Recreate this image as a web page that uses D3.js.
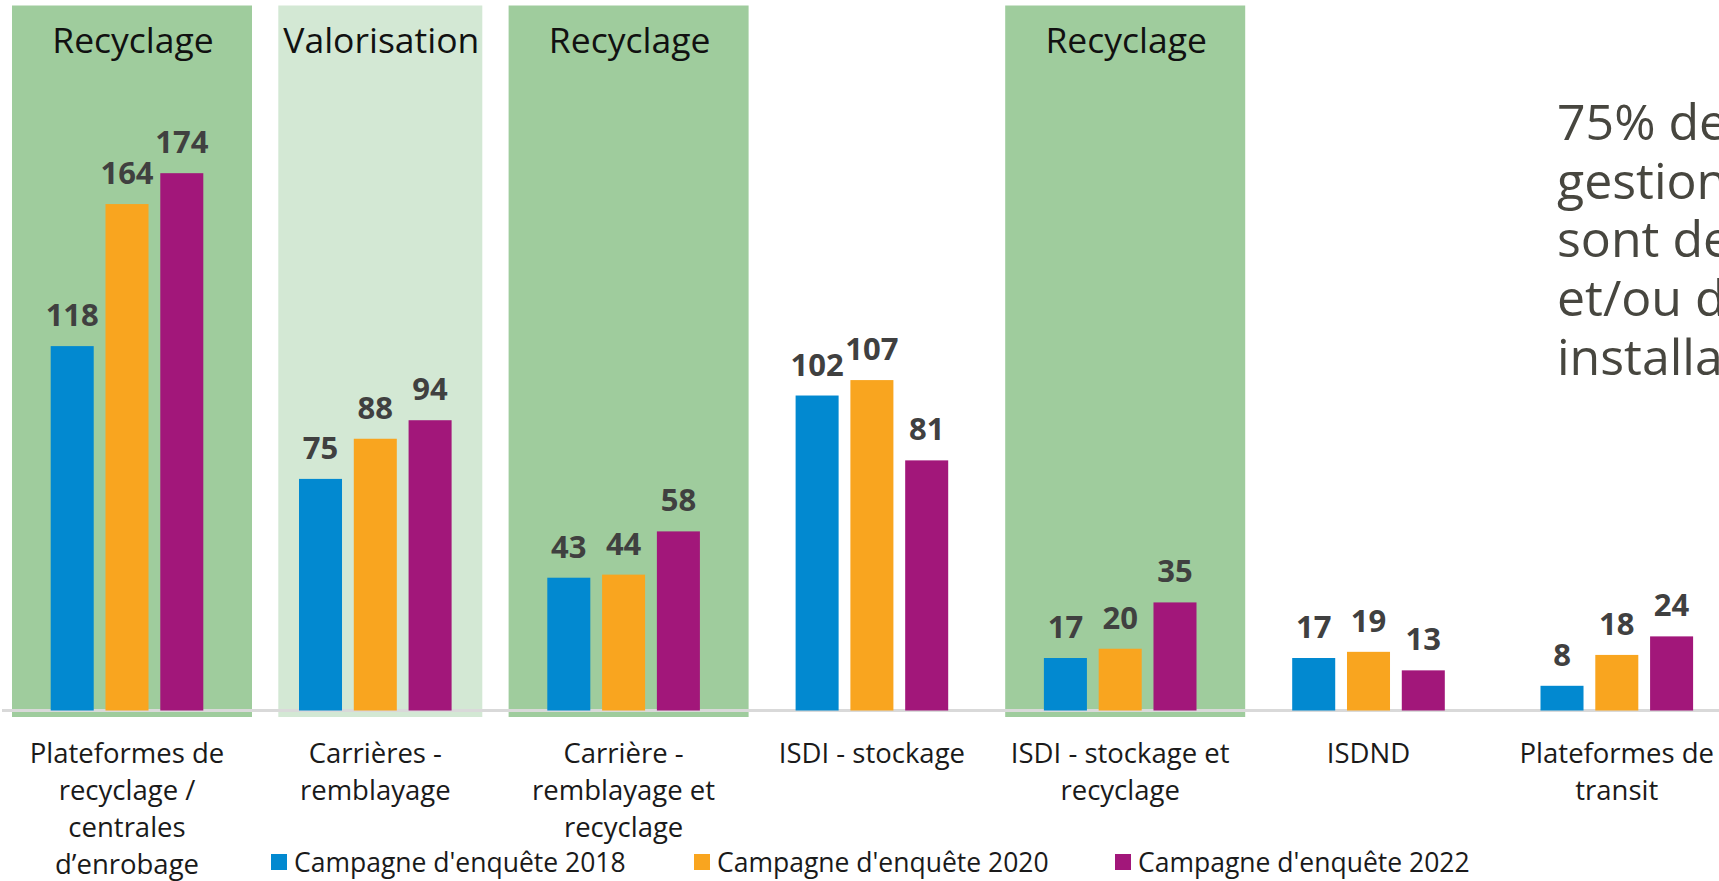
<!DOCTYPE html>
<meta charset="utf-8">
<style>
body { margin: 0; overflow: hidden; background: #fff; }
text { font-family: "Open Sans", sans-serif; }
.lbl { font-weight: bold; fill: #404040; font-size: 31px; }
.cat { fill: #1a1a1a; font-size: 27.5px; }
.band-title { fill: #111; font-size: 35.5px; }
.note { fill: #47463f; font-size: 50px; }
.leg { fill: #1a1a1a; font-size: 26.5px; }
</style>
<body>
<script src="https://cdnjs.cloudflare.com/ajax/libs/d3/7.8.5/d3.min.js"></script>
<script>

// categories (x axis), one label line per entry
var categories = ["plateformes", "carrieres", "carriere_rr", "isdi", "isdi_sr", "isdnd", "transit"];
var categoryLines = [
  ["Plateformes de", "recyclage /", "centrales", "d\u2019enrobage"],
  ["Carri\u00e8res -", "remblayage"],
  ["Carri\u00e8re -", "remblayage et", "recyclage"],
  ["ISDI - stockage"],
  ["ISDI - stockage et", "recyclage"],
  ["ISDND"],
  ["Plateformes de", "transit"]
];
// background band per category (null = none)
var bandTypes = ["Recyclage", "Valorisation", "Recyclage", null, "Recyclage", null, null];

var series = ["Campagne d'enqu\u00eate 2018", "Campagne d'enqu\u00eate 2020", "Campagne d'enqu\u00eate 2022"];
var values2018 = [118, 75, 43, 102, 17, 17, 8];
var values2020 = [164, 88, 44, 107, 20, 19, 18];
var values2022 = [174, 94, 58, 81, 35, 13, 24];
var colors = ["#0289d0", "#f9a51f", "#a2177a"];

var noteLines = ["75% des d\u00e9chets", "gestionnaires", "sont des", "et/ou des", "installations"];

var W = 1719, H = 881;
var baseY = 710.5;

var svg = d3.select("body").append("svg")
    .attr("width", W)
    .attr("height", H);

var x0 = d3.scaleBand()
    .domain(categories)
    .range([2.85, 2.85 + 7 * 248.3]);
var x1 = d3.scaleBand()
    .domain(series)
    .range([-76.3, 76.3])
    .paddingInner(0.215);
var y = d3.scaleLinear()
    .domain([0, 200])
    .range([baseY, baseY - 617.6]);

function cx(c) { return x0(c) + x0.bandwidth() / 2; }

// background bands
var bands = categories.map(function(c, i) { return {c: c, t: bandTypes[i]}; })
    .filter(function(d) { return d.t; });

svg.selectAll(".band")
  .data(bands)
  .enter().append("rect")
    .attr("class", "band")
    .attr("x", function(d) { var w = d.t == "Valorisation" ? 204 : 240; return cx(d.c) + 5 - w / 2; })
    .attr("width", function(d) { return d.t == "Valorisation" ? 204 : 240; })
    .attr("y", 5.5)
    .attr("height", 717 - 5.5)
    .attr("fill", function(d) { return d.t == "Valorisation" ? "#d3e8d4" : "#9fcc9d"; });

svg.selectAll(".band-title")
  .data(bands)
  .enter().append("text")
    .attr("class", "band-title")
    .attr("x", function(d) { return cx(d.c) + 6; })
    .attr("y", 53)
    .attr("text-anchor", "middle")
    .text(function(d) { return d.t; });

// axis line
svg.append("line")
    .attr("x1", 2).attr("x2", W)
    .attr("y1", baseY).attr("y2", baseY)
    .attr("stroke", "#d9d9d9")
    .attr("stroke-width", 3);

// bars
var allValues = [values2018, values2020, values2022];
var groups = svg.selectAll(".grp")
  .data(categories)
  .enter().append("g")
    .attr("class", "grp")
    .attr("transform", function(c) { return "translate(" + cx(c) + ",0)"; });

var cells = groups.selectAll(".cell")
  .data(function(c, i) {
    return series.map(function(s, j) { return {s: s, v: allValues[j][i], col: colors[j]}; });
  })
  .enter();

cells.append("rect")
    .attr("x", function(d) { return x1(d.s); })
    .attr("width", x1.bandwidth())
    .attr("y", function(d) { return y(d.v); })
    .attr("height", function(d) { return baseY - y(d.v); })
    .attr("fill", function(d) { return d.col; });

cells.append("text")
    .attr("class", "lbl")
    .attr("x", function(d) { return x1(d.s) + x1.bandwidth() / 2; })
    .attr("y", function(d) { return y(d.v) - 20; })
    .attr("text-anchor", "middle")
    .text(function(d) { return d.v; });

// category labels
svg.selectAll(".cat")
  .data(categories)
  .enter().append("text")
    .attr("class", "cat")
    .attr("text-anchor", "middle")
    .attr("x", function(c) { return cx(c); })
    .attr("y", 763)
    .selectAll("tspan")
    .data(function(c, i) { return categoryLines[i]; })
    .enter().append("tspan")
      .attr("x", function() { return cx(d3.select(this.parentNode).datum()); })
      .attr("dy", function(d, i) { return i ? 37 : 0; })
      .text(function(d) { return d; });

// legend
var legX = [271, 694, 1115];
var leg = svg.selectAll(".legitem")
  .data(series)
  .enter().append("g")
    .attr("transform", function(d, i) { return "translate(" + legX[i] + ",862)"; });
leg.append("rect")
    .attr("x", 0).attr("y", -8)
    .attr("width", 16).attr("height", 16)
    .attr("fill", function(d, i) { return colors[i]; });
leg.append("text")
    .attr("class", "leg")
    .attr("x", 23)
    .attr("y", 9.5)
    .text(function(d) { return d; });

// side note (cut by the edge, as in the original)
svg.append("text")
    .attr("class", "note")
    .attr("x", 1557)
    .attr("y", 140)
    .selectAll("tspan")
    .data(noteLines)
    .enter().append("tspan")
      .attr("x", 1557)
      .attr("dy", function(d, i) { return i ? 58.7 : 0; })
      .text(function(d) { return d; });

</script>
</body>
